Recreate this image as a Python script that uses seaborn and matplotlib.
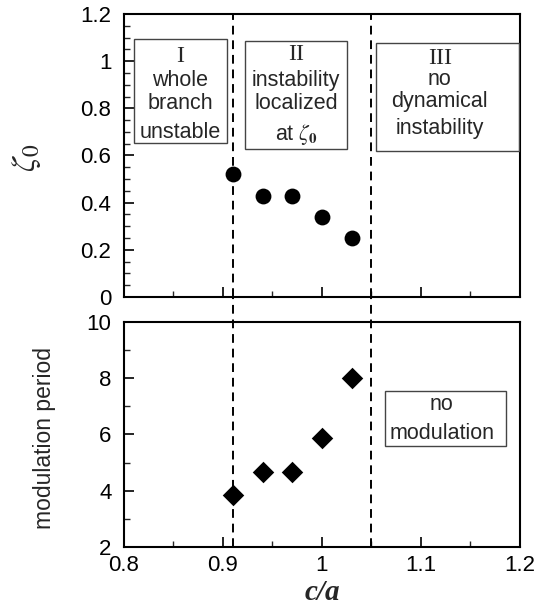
import numpy as np
import pandas as pd
import matplotlib
matplotlib.use('Agg')
import matplotlib.pyplot as plt
from matplotlib.patches import Rectangle
from matplotlib.ticker import MultipleLocator
import seaborn as sns

# data
ca_values = [0.91, 0.94, 0.97, 1.00, 1.03]
zeta0 = [0.52, 0.43, 0.43, 0.34, 0.25]
mod_period = [3.85, 4.65, 4.65, 5.87, 8.0]
region_bounds = [0.91, 1.05]

x_ticks = [0.8, 0.9, 1.0, 1.1, 1.2]
x_ticklabels = ['0.8', '0.9', '1', '1.1', '1.2']
top_yticks = [0, 0.2, 0.4, 0.6, 0.8, 1.0, 1.2]
top_yticklabels = ['0', '0.2', '0.4', '0.6', '0.8', '1', '1.2']
bot_yticks = [2, 4, 6, 8, 10]

df = pd.DataFrame({'ca': ca_values, 'zeta0': zeta0, 'period': mod_period})

sns.set_style('ticks')
plt.rcParams['font.family'] = ['Liberation Sans', 'DejaVu Sans']
plt.rcParams['mathtext.fontset'] = 'stix'
plt.rcParams['xtick.direction'] = 'in'
plt.rcParams['ytick.direction'] = 'in'

fig = plt.figure(figsize=(5.37, 6.13), dpi=100)
ax1 = fig.add_axes([0.2309, 0.5155, 0.7374, 0.4617])
ax2 = fig.add_axes([0.2309, 0.1077, 0.7374, 0.3670])

sns.scatterplot(data=df, x='ca', y='zeta0', ax=ax1, color='black', marker='o',
                s=130, edgecolor='black', linewidth=0, zorder=5)
sns.scatterplot(data=df, x='ca', y='period', ax=ax2, color='black', marker='D',
                s=120, edgecolor='black', linewidth=0, zorder=5)

for ax in (ax1, ax2):
    ax.set_xlim(0.8, 1.2)
    ax.set_xticks(x_ticks)
    ax.xaxis.set_minor_locator(MultipleLocator(0.05))
    ax.tick_params(axis='both', which='major', length=7, width=1.2, labelsize=16,
                   top=False, right=False, colors='black', pad=9)
    ax.tick_params(axis='both', which='minor', length=4, width=1.0,
                   top=False, right=False)
    for sp in ax.spines.values():
        sp.set_linewidth(1.5)
        sp.set_color('black')
    ax.set_xlabel('')
    ax.set_ylabel('')

ax1.set_ylim(0, 1.2)
ax1.set_yticks(top_yticks)
ax1.set_yticklabels(top_yticklabels)
ax1.yaxis.set_minor_locator(MultipleLocator(0.05))
ax1.set_xticklabels([])

ax2.set_ylim(2, 10)
ax2.set_yticks(bot_yticks)
ax2.yaxis.set_minor_locator(MultipleLocator(1))
ax2.set_xticklabels(x_ticklabels)
ax2.tick_params(axis='x', pad=6)

# dashed region boundaries, running through both panels and the gap
gap = (0.5155 - (0.1077 + 0.3670)) / 0.3670
for xb in region_bounds:
    ax1.axvline(xb, color='black', ls=(0, (4.5, 3)), lw=1.4, zorder=3)
    ax2.axvline(xb, ymin=0, ymax=1 + gap, color='black', ls=(0, (4.5, 3)), lw=1.4,
                zorder=3, clip_on=False)

box_kw = dict(fill=False, edgecolor='#444444', lw=1.0, zorder=4)
ax1.add_patch(Rectangle((0.810, 0.653), 0.094, 0.441, **box_kw))
ax1.add_patch(Rectangle((0.922, 0.627), 0.103, 0.458, **box_kw))
ax1.add_patch(Rectangle((1.0545, 0.619), 0.1445, 0.458, **box_kw))
ax2.add_patch(Rectangle((1.0636, 5.59), 0.1224, 1.95, **box_kw))

serif = ['Liberation Serif', 'DejaVu Serif']
tkw = dict(ha='center', va='center', fontsize=15.5)
nkw = dict(ha='center', va='center', fontsize=17.5, family=serif)
# region I
ax1.text(0.857, 1.018, 'I', **nkw)
ax1.text(0.857, 0.920, 'whole', **tkw)
ax1.text(0.857, 0.822, 'branch', **tkw)
ax1.text(0.857, 0.699, 'unstable', **tkw)
# region II
ax1.text(0.974, 1.027, 'II', **nkw)
ax1.text(0.974, 0.920, 'instability', **tkw)
ax1.text(0.974, 0.822, 'localized', **tkw)
ax1.text(0.974, 0.690, r'at $\zeta_\mathbf{0}$', **tkw)
# region III
ax1.text(1.119, 1.010, 'III', **nkw)
ax1.text(1.119, 0.922, 'no', **tkw)
ax1.text(1.119, 0.830, 'dynamical', **tkw)
ax1.text(1.119, 0.716, 'instability', **tkw)
# no modulation
ax2.text(1.121, 7.05, 'no', **tkw)
ax2.text(1.121, 6.05, 'modulation', **tkw)

fig.text(0.050, 0.742, r'$\zeta_0$', rotation=90, ha='center', va='center',
         fontsize=24)
fig.text(0.082, 0.2855, 'modulation period', rotation=90, ha='center',
         va='center', fontsize=16.5)
fig.text(0.600, 0.033, 'c/a', ha='center', va='center', fontsize=21,
         family=serif, style='italic', weight='bold')

fig.savefig('out.png', dpi=100)
